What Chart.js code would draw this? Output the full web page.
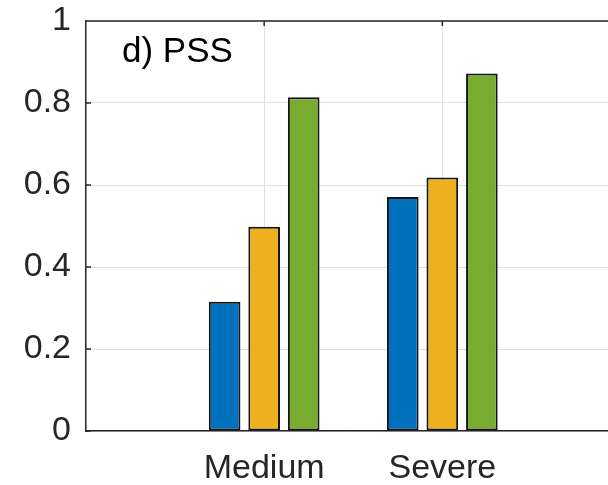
<!DOCTYPE html>
<html>
<head>
<meta charset="utf-8">
<script src="https://cdn.jsdelivr.net/npm/chart.js@4"></script>
<style>
  html, body { margin: 0; padding: 0; background: #fff; overflow: hidden; }
  #wrap { width: 608px; height: 485px; }
</style>
</head>
<body>
<div id="wrap"><canvas id="pssChart" width="608" height="485"></canvas></div>
<script>
// chart values
const categories = ['Medium', 'Severe'];
const blueVals = [0.315, 0.571];
const yellowVals = [0.498, 0.618];
const greenVals = [0.814, 0.872];
const yTicks = [0, 0.2, 0.4, 0.6, 0.8, 1];
const panelTitle = 'd) PSS';

const FONT = '"Liberation Sans", Arial, Helvetica, sans-serif';
const AXIS = '#262626';

function toPoints(vals) {
    return vals.map((v, i) => ({ x: i + 1, y: v }));
}

function barSet(label, vals, color) {
    return {
        label: label,
        data: toPoints(vals),
        backgroundColor: color,
        borderColor: '#151515',
        borderWidth: 2,
        borderSkipped: false,
        categoryPercentage: 0.666,
        barPercentage: 0.8
    };
}

// box top line, inward tick marks and the panel label
const axesExtras = {
    id: 'axesExtras',
    afterDraw(chart) {
        const ctx = chart.ctx;
        const area = chart.chartArea;
        const xs = chart.scales.x;
        const ys = chart.scales.y;
        ctx.save();
        ctx.strokeStyle = AXIS;
        ctx.lineWidth = 1.5;
        ctx.beginPath();
        ctx.moveTo(area.left, area.top);
        ctx.lineTo(area.right, area.top);
        ys.ticks.forEach(t => {
            const y = ys.getPixelForValue(t.value);
            ctx.moveTo(area.left, y);
            ctx.lineTo(area.left + 5, y);
        });
        xs.ticks.forEach(t => {
            const x = xs.getPixelForValue(t.value);
            ctx.moveTo(x, area.top);
            ctx.lineTo(x, area.top + 5);
        });
        ctx.stroke();

        ctx.fillStyle = '#000';
        ctx.font = '35px ' + FONT;
        ctx.textBaseline = 'alphabetic';
        ctx.textAlign = 'left';
        ctx.fillText(panelTitle, area.left + 36, area.top + 41);
        ctx.restore();
    }
};

const ctx = document.getElementById('pssChart').getContext('2d');
new Chart(ctx, {
    type: 'bar',
    data: {
        datasets: [
            barSet('Series 1', blueVals, '#0072BD'),
            barSet('Series 2', yellowVals, '#EDB120'),
            barSet('Series 3', greenVals, '#77AC30')
        ]
    },
    options: {
        responsive: false,
        animation: false,
        layout: { padding: { top: 21, left: 0, right: 0, bottom: 0 } },
        plugins: {
            legend: { display: false },
            tooltip: { enabled: false }
        },
        scales: {
            x: {
                type: 'linear',
                min: 0,
                max: 2.93,
                offset: false,
                afterBuildTicks: scale => {
                    scale.ticks = categories.map((c, i) => ({ value: i + 1 }));
                },
                afterFit: scale => {
                    scale.height = 54;
                    scale.paddingLeft = 0;
                    scale.paddingRight = 0;
                },
                grid: { color: '#dfdfdf', lineWidth: 1, drawTicks: false, offset: false },
                border: { color: AXIS, width: 1.5 },
                ticks: {
                    color: AXIS,
                    font: { family: FONT, size: 34 },
                    padding: 17,
                    maxRotation: 0,
                    autoSkip: false,
                    callback: v => categories[v - 1] || ''
                }
            },
            y: {
                min: 0,
                max: 1,
                afterBuildTicks: scale => {
                    scale.ticks = yTicks.map(v => ({ value: v }));
                },
                afterFit: scale => {
                    scale.width = 86;
                    scale.paddingTop = 0;
                    scale.paddingBottom = 0;
                },
                grid: { color: '#dfdfdf', lineWidth: 1, drawTicks: false },
                border: { color: AXIS, width: 1.5 },
                ticks: {
                    color: AXIS,
                    font: { family: FONT, size: 34 },
                    padding: 15,
                    callback: v => String(+v.toFixed(1))
                }
            }
        }
    },
    plugins: [axesExtras]
});
</script>
</body>
</html>
